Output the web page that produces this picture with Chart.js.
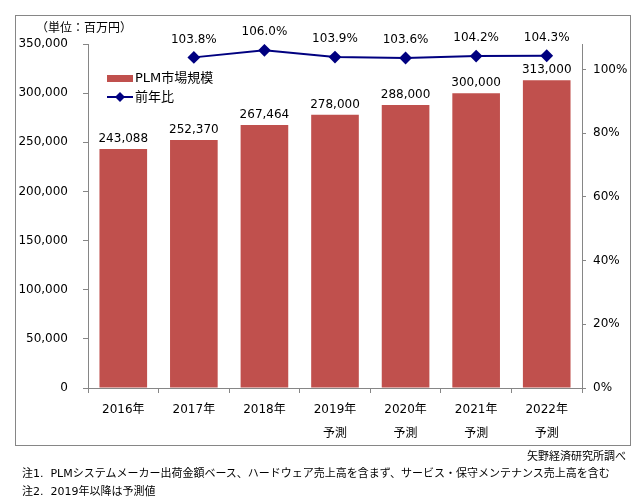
<!DOCTYPE html>
<html lang="ja">
<head>
<meta charset="utf-8">
<script src="https://cdn.jsdelivr.net/npm/chart.js@4"></script>
<style>
  html, body { margin: 0; padding: 0; background: #fff; }
  body { width: 643px; height: 503px; position: relative; overflow: hidden;
         font-family: "DejaVu Sans", "Noto Sans CJK JP", sans-serif; color: #000; }
  #wrap { position: absolute; left: 0; top: 0; width: 643px; height: 503px; }
  .note { position: absolute; font-size: 11px; white-space: nowrap; line-height: 1; }
</style>
</head>
<body>
<div id="wrap"><canvas id="plm" width="643" height="503"></canvas></div>
<div class="note" style="right:17px; top:451px;">矢野経済研究所調べ</div>
<div class="note" style="left:22px; top:468px;">注1.&nbsp; PLMシステムメーカー出荷金額ベース、ハードウェア売上高を含まず、サービス・保守メンテナンス売上高を含む</div>
<div class="note" style="left:22px; top:486px;">注2.&nbsp; 2019年以降は予測値</div>
<script>
// data
const years = ['2016年', '2017年', '2018年', '2019年', '2020年', '2021年', '2022年'];
const forecast = [false, false, false, true, true, true, true];
const marketSize = [243088, 252370, 267464, 278000, 288000, 300000, 313000];
const yoyRatio = [null, 103.8, 106.0, 103.9, 103.6, 104.2, 104.3];
const leftTicks = [0, 50000, 100000, 150000, 200000, 250000, 300000, 350000];
const rightTicks = [0, 20, 40, 60, 80, 100];

const FONT = '"DejaVu Sans", "Noto Sans CJK JP", sans-serif';
const barColor = '#C0504D';
const lineColor = '#000080';
const axisColor = '#868686';

const xLabels = years.map((y, i) => forecast[i] ? [y, '予測'] : [y]);

// box, title, legend, value labels
const decorations = {
  id: 'decorations',
  beforeDraw(chart) {
    const ctx = chart.ctx;
    ctx.save();
    ctx.strokeStyle = axisColor;
    ctx.lineWidth = 1;
    ctx.strokeRect(15.5, 15.5, 615, 430);
    ctx.fillStyle = '#000';
    ctx.font = '12px ' + FONT;
    ctx.textBaseline = 'middle';
    ctx.textAlign = 'left';
    ctx.fillText('（単位：百万円）', 36, 29);
    ctx.restore();
  },
  afterDatasetsDraw(chart) {
    const ctx = chart.ctx;
    ctx.save();
    ctx.font = '12px ' + FONT;
    ctx.fillStyle = '#000';
    ctx.textAlign = 'center';
    ctx.textBaseline = 'bottom';
    chart.getDatasetMeta(1).data.forEach((bar, i) => {
      ctx.fillText(marketSize[i].toLocaleString('en-US'), bar.x, bar.y - 4);
    });
    chart.getDatasetMeta(0).data.forEach((pt, i) => {
      if (yoyRatio[i] == null) return;
      ctx.fillText(yoyRatio[i].toFixed(1) + '%', pt.x, pt.y - 12);
    });

    // legend
    ctx.fillStyle = barColor;
    ctx.fillRect(107, 75, 26, 7);
    ctx.strokeStyle = lineColor;
    ctx.lineWidth = 2;
    ctx.beginPath();
    ctx.moveTo(107, 97);
    ctx.lineTo(133, 97);
    ctx.stroke();
    ctx.fillStyle = lineColor;
    ctx.beginPath();
    ctx.moveTo(120, 92); ctx.lineTo(125, 97); ctx.lineTo(120, 102); ctx.lineTo(115, 97);
    ctx.closePath();
    ctx.fill();
    ctx.fillStyle = '#000';
    ctx.textAlign = 'left';
    ctx.textBaseline = 'middle';
    ctx.font = '13px ' + FONT;
    ctx.fillText('PLM市場規模', 135, 79);
    ctx.fillText('前年比', 135, 98);
    ctx.restore();
  }
};

new Chart(document.getElementById('plm'), {
  data: {
    labels: xLabels,
    datasets: [
      {
        type: 'line',
        label: '前年比',
        data: yoyRatio,
        yAxisID: 'yRatio',
        borderColor: lineColor,
        backgroundColor: lineColor,
        borderWidth: 2,
        pointStyle: 'rectRot',
        pointRadius: 5,
        pointBackgroundColor: lineColor,
        pointBorderColor: lineColor,
        tension: 0,
        spanGaps: false,
        order: 0
      },
      {
        type: 'bar',
        label: 'PLM市場規模',
        data: marketSize,
        yAxisID: 'y',
        backgroundColor: barColor,
        barPercentage: 0.675,
        categoryPercentage: 1,
        order: 1
      }
    ]
  },
  options: {
    responsive: false,
    animation: false,
    layout: { padding: { top: 44, left: 0, right: 0, bottom: 0 } },
    plugins: {
      legend: { display: false },
      tooltip: { enabled: false }
    },
    scales: {
      x: {
        offset: true,
        afterFit: s => { s.height = 115; },
        border: { color: axisColor },
        grid: { offset: true, drawOnChartArea: false, drawTicks: true, tickLength: 5, color: axisColor },
        ticks: { color: '#000', font: { family: FONT, size: 12, lineHeight: 2.0 }, padding: 5, maxRotation: 0 }
      },
      y: {
        position: 'left',
        min: 0,
        max: 350000,
        afterFit: s => { s.width = 88; },
        afterBuildTicks: s => { s.ticks = leftTicks.map(v => ({ value: v })); },
        border: { color: axisColor },
        grid: { drawOnChartArea: false, drawTicks: true, tickLength: 5, color: axisColor },
        ticks: {
          color: '#000',
          font: { family: FONT, size: 12 },
          padding: 15,
          callback: v => v.toLocaleString('en-US')
        }
      },
      yRatio: {
        position: 'right',
        min: 0,
        max: 108,
        afterFit: s => { s.width = 61; },
        afterBuildTicks: s => { s.ticks = rightTicks.map(v => ({ value: v })); },
        border: { color: axisColor },
        grid: { drawOnChartArea: false, drawTicks: true, tickLength: 4, color: axisColor },
        ticks: {
          color: '#000',
          font: { family: FONT, size: 12 },
          padding: 7,
          callback: v => v + '%'
        }
      }
    }
  },
  plugins: [decorations]
});
</script>
</body>
</html>
